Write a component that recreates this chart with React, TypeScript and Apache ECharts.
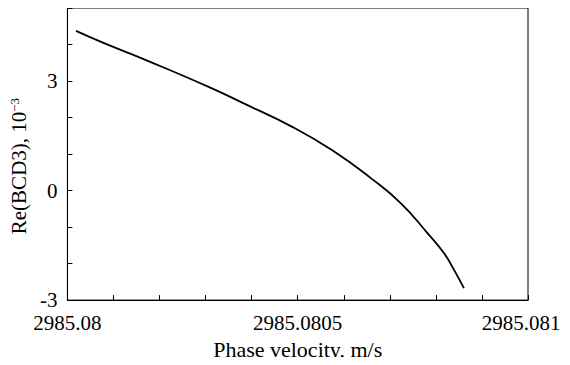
import React, { useEffect, useRef } from "react";
import * as echarts from "echarts";

const BASE_VELOCITY = 2985.08;
const STEP = 0.0001;
const phaseVelocity = [
  2985.0800187, 2985.0800796, 2985.0801656, 2985.080309, 2985.0803806,
  2985.0804882, 2985.0805742, 2985.0806602, 2985.0807247, 2985.0807822,
  2985.0808178, 2985.0808394, 2985.0808609,
];
const reBCD3 = [
  4.372, 4.036, 3.6, 2.828, 2.4,
  1.745, 1.109, 0.327, -0.355, -1.173,
  -1.718, -2.173, -2.673,
];
const xLabelOffsets = [0, 5, 10];
const yLabelValues = [-3, 0, 3];

const FONT = '"Liberation Serif", "Times New Roman", serif';

export default function App() {
  const ref = useRef<HTMLDivElement>(null);
  useEffect(() => {
    if (!ref.current) return;
    const chart = echarts.init(ref.current, undefined, { renderer: "svg" });
    const data = phaseVelocity.map((v, i) => [
      Math.round((v - BASE_VELOCITY) / STEP * 10000) / 10000,
      reBCD3[i],
    ]);
    chart.setOption({
      animation: false,
      backgroundColor: "#fff",
      grid: {
        left: 63, right: 42, top: 8, bottom: 63,
        show: true, borderColor: "#000", borderWidth: 1,
      },
      xAxis: {
        type: "value",
        min: 0, max: 10, interval: 1,
        name: "Phase velocity, m/s",
        nameLocation: "middle",
        nameGap: 37,
        nameTextStyle: { fontFamily: FONT, fontSize: 22, color: "#000" },
        axisLine: { show: true, onZero: false, lineStyle: { color: "#000", width: 1 } },
        axisTick: { show: true, inside: true, length: 5, lineStyle: { color: "#000" } },
        splitLine: { show: false },
        axisLabel: {
          fontFamily: FONT, fontSize: 21, color: "#000", margin: 12,
          formatter: (v: number) => {
            const k = Math.round(v);
            if (!xLabelOffsets.includes(k)) return "";
            const txt = String(+(BASE_VELOCITY + k * STEP).toFixed(4));
            return k === 10 ? "{r|" + txt + "}" : txt;
          },
          rich: {
            r: { fontFamily: FONT, fontSize: 21, color: "#000", padding: [0, 14, 0, 0] },
          },
        },
      },
      yAxis: {
        type: "value",
        min: -3, max: 5, interval: 1,
        name: "Re(BCD3), 10{sup|−3}",
        nameLocation: "middle",
        nameGap: 32,
        nameTextStyle: {
          fontFamily: FONT, fontSize: 21, color: "#000",
          padding: [0, 24, 0, 0],
          rich: {
            sup: { fontFamily: FONT, fontSize: 13, color: "#000", verticalAlign: "top", lineHeight: 21 },
          },
        },
        axisLine: { show: true, onZero: false, lineStyle: { color: "#000", width: 1 } },
        axisTick: { show: true, inside: true, length: 5, lineStyle: { color: "#000" } },
        splitLine: { show: false },
        axisLabel: {
          fontFamily: FONT, fontSize: 21, color: "#000", margin: 10,
          formatter: (v: number) => (yLabelValues.includes(Math.round(v)) ? String(Math.round(v)) : ""),
        },
      },
      series: [
        {
          type: "line",
          data,
          smooth: 0.5,
          showSymbol: false,
          lineStyle: { color: "#000", width: 1.8 },
        },
      ],
    });
    return () => chart.dispose();
  }, []);
  return <div ref={ref} style={{ width: 570, height: 365, margin: -8 }} />;
}
